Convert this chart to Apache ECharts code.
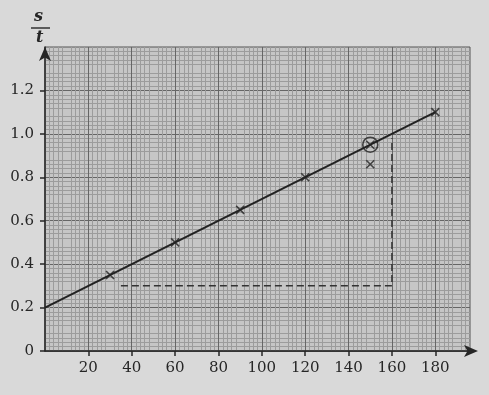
<!DOCTYPE html>
<html>
<head>
<meta charset="utf-8">
<script src="https://cdn.jsdelivr.net/npm/echarts@6/dist/echarts.min.js"></script>
<style>
  html, body { margin: 0; padding: 0; background: #d9d9d9; }
  #chart { width: 489px; height: 395px; }
</style>
</head>
<body>
<div id="chart"></div>
<script>
// readings off the graph paper
const xTicks = [20, 40, 60, 80, 100, 120, 140, 160, 180];
const yTicks = [0, 0.2, 0.4, 0.6, 0.8, 1.0, 1.2];
const measured = [[30, 0.35], [60, 0.5], [90, 0.65], [120, 0.8], [150, 0.86], [180, 1.1]];
const fitLine = [[0, 0.2], [180, 1.1]];
const circled = [[150, 0.95]];
const guide = [[35, 0.3], [160, 0.3], [160, 0.98]];

const ink = "#262626";
const cross = "path://M0,0L10,10M10,0L0,10";

const chart = echarts.init(document.getElementById("chart"));
const option = {
  backgroundColor: "#d9d9d9",
  animation: false,
  grid: {
    left: 45,
    right: 19,
    top: 47,
    bottom: 44,
    show: true,
    backgroundColor: "#c6c6c6",
    borderColor: "#555",
    borderWidth: 1,
  },
  graphic: [
    {
      type: "text",
      left: 34,
      top: 9,
      style: { text: "s", font: "italic bold 16px 'DejaVu Serif'", fill: ink },
    },
    {
      type: "line",
      shape: { x1: 31, y1: 28, x2: 50, y2: 28 },
      style: { stroke: ink, lineWidth: 1.4 },
    },
    {
      type: "text",
      left: 36,
      top: 30,
      style: { text: "t", font: "italic bold 16px 'DejaVu Serif'", fill: ink },
    },
  ],
  xAxis: {
    type: "value",
    min: 0,
    max: 196,
    interval: 10,
    axisLine: {
      onZero: false,
      lineStyle: { color: ink, width: 1.5 },
      symbol: ["none", "arrow"],
      symbolSize: [9, 14],
      symbolOffset: [0, 8],
    },
    axisTick: {
      show: true,
      customValues: xTicks,
      length: 5,
      lineStyle: { color: ink, width: 1.5 },
    },
    axisLabel: {
      customValues: xTicks,
      margin: 10,
      color: ink,
      fontSize: 15,
      fontFamily: "DejaVu Serif",
    },
    splitLine: { show: true, lineStyle: { color: "#666", width: 1 } },
    minorTick: { show: false, splitNumber: 5 },
    minorSplitLine: { show: true, lineStyle: { color: "#9c9c9c", width: 1 } },
  },
  yAxis: {
    type: "value",
    min: 0,
    max: 1.4,
    interval: 0.1,
    axisLine: {
      onZero: false,
      lineStyle: { color: ink, width: 1.5 },
      symbol: ["none", "arrow"],
      symbolSize: [9, 14],
      symbolOffset: [0, 0],
    },
    axisTick: {
      show: true,
      customValues: yTicks,
      length: 5,
      lineStyle: { color: ink, width: 1.5 },
    },
    axisLabel: {
      customValues: yTicks,
      margin: 11,
      color: ink,
      fontSize: 15,
      fontFamily: "DejaVu Serif",
      formatter: (v) => (v === 0 ? "0" : v.toFixed(1)),
    },
    splitLine: { show: true, lineStyle: { color: "#666", width: 1 } },
    minorTick: { show: false, splitNumber: 5 },
    minorSplitLine: { show: true, lineStyle: { color: "#9c9c9c", width: 1 } },
  },
  series: [
    {
      type: "line",
      data: fitLine,
      symbol: "none",
      lineStyle: { color: "#222", width: 2 },
      z: 5,
    },
    {
      type: "line",
      data: guide,
      symbol: "none",
      lineStyle: { color: "#333", width: 1.5, type: [7, 4] },
      z: 4,
    },
    {
      type: "scatter",
      data: measured,
      symbol: cross,
      symbolSize: 8,
      itemStyle: { color: "none", borderColor: "#222", borderWidth: 1.6 },
      z: 6,
    },
    {
      type: "scatter",
      data: circled,
      symbol: "circle",
      symbolSize: 15,
      itemStyle: { color: "none", borderColor: "#222", borderWidth: 1.6 },
      z: 6,
    },
    {
      type: "scatter",
      data: circled,
      symbol: cross,
      symbolSize: 8,
      itemStyle: { color: "none", borderColor: "#222", borderWidth: 1.6 },
      z: 6,
    },
  ],
};
chart.setOption(option);
</script>
</body>
</html>
